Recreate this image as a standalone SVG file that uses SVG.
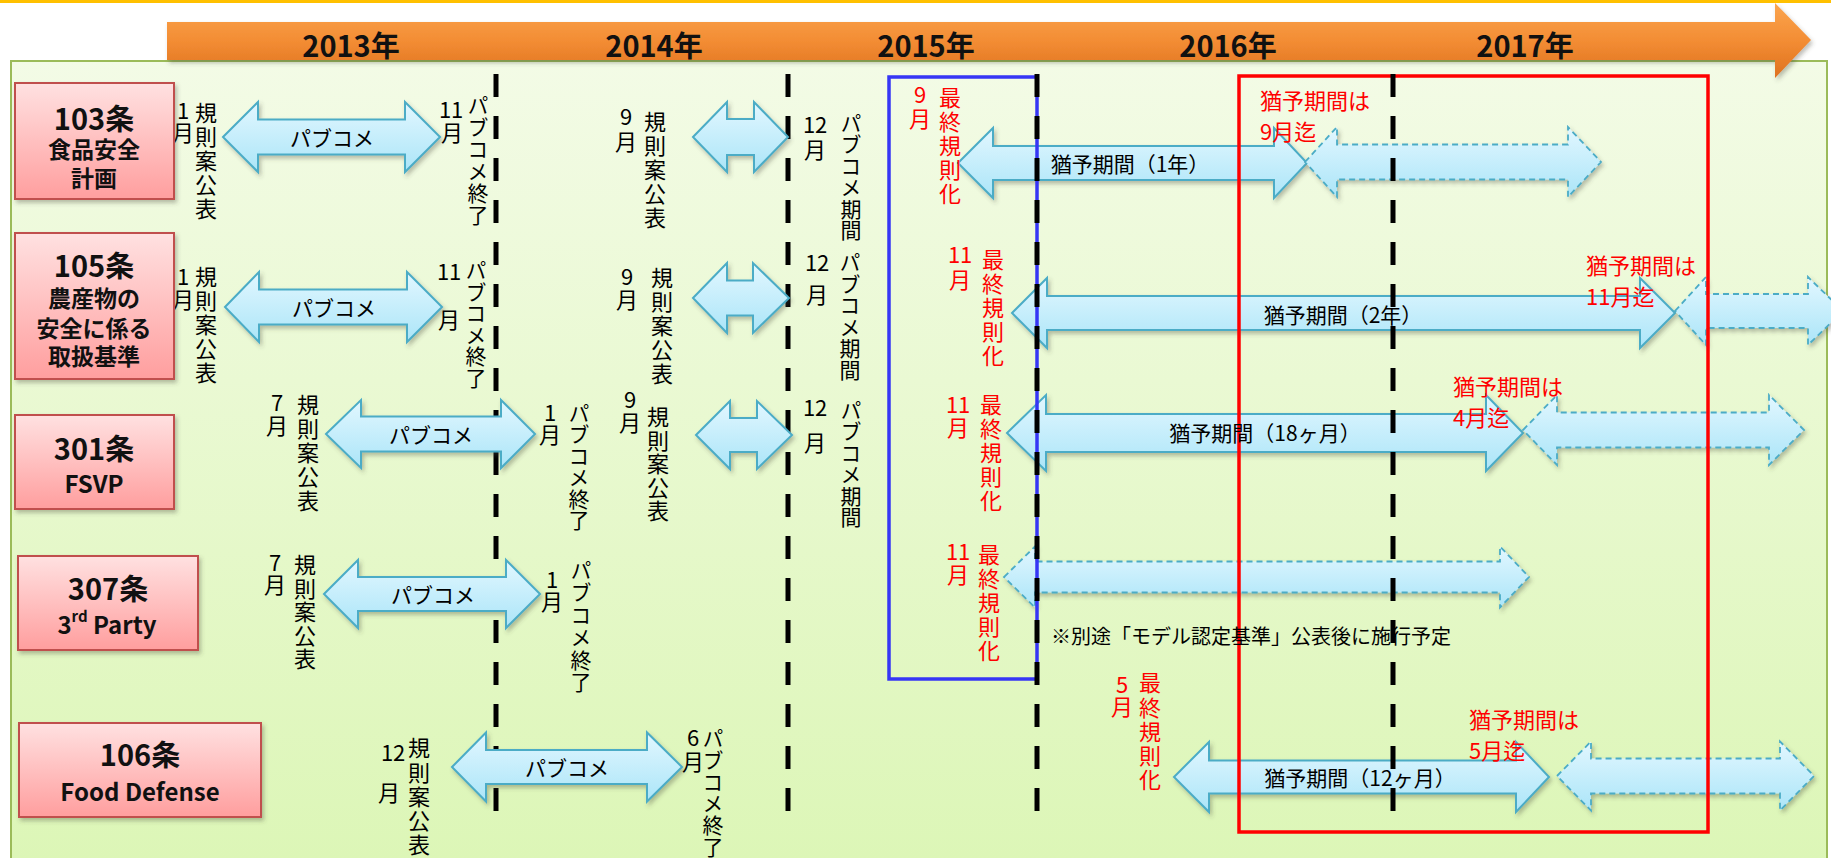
<svg xmlns="http://www.w3.org/2000/svg" width="1831" height="858" viewBox="0 0 1831 858">
<defs>
<linearGradient id="gPanel" x1="0" y1="0" x2="0" y2="1"><stop offset="0" stop-color="#F3FBE6"/><stop offset="1" stop-color="#DCF6B6"/></linearGradient>
<linearGradient id="gOrange" x1="0" y1="0" x2="0" y2="1"><stop offset="0" stop-color="#FBA54F"/><stop offset="0.5" stop-color="#F38D34"/><stop offset="1" stop-color="#DE711E"/></linearGradient>
<linearGradient id="gNode" x1="0" y1="0" x2="0" y2="1"><stop offset="0" stop-color="#FFE1E1"/><stop offset="1" stop-color="#FF9E9E"/></linearGradient>
<linearGradient id="gArrow" x1="0" y1="0" x2="0" y2="1"><stop offset="0" stop-color="#E2F7FF"/><stop offset="1" stop-color="#ABE5F8"/></linearGradient>
<filter id="sh" x="-10%" y="-20%" width="130%" height="160%"><feDropShadow dx="2" dy="3" stdDeviation="2" flood-color="#4a4a3a" flood-opacity="0.35"/></filter>
<style>
.t{font-family:"Noto Sans CJK JP","Noto Sans",sans-serif;}
.yr{font-size:29px;font-weight:700;fill:#111;text-anchor:middle;dominant-baseline:central;}
.nb{fill:url(#gNode);stroke:#C0504D;stroke-width:2;filter:url(#sh);}
.nt{font-weight:700;fill:#111;text-anchor:middle;dominant-baseline:central;}
.big{font-size:29px;}
.mid{font-size:23px;}
.lat{font-size:24px;}
.v{writing-mode:vertical-rl;text-orientation:upright;font-size:22px;fill:#000;}
.k{font-size:21px;}
.red{fill:#FF0000;}
.lbl{font-size:21px;fill:#000;text-anchor:middle;dominant-baseline:central;}
.rl{font-size:22px;fill:#FF0000;dominant-baseline:central;}
.note{font-size:20px;fill:#000;dominant-baseline:central;}
.arr{fill:url(#gArrow);stroke:#4BACC6;stroke-width:2;stroke-linejoin:miter;filter:url(#sh);}
.arrd{fill:url(#gArrow);stroke:#4BACC6;stroke-width:1.8;stroke-dasharray:6 4;filter:url(#sh);}
.dl{stroke:#000;stroke-width:5;stroke-dasharray:23 19;fill:none;}
</style>
</defs>
<rect x="0" y="0" width="1831" height="858" fill="#FFFFFF"/>
<rect x="0" y="0" width="1831" height="3" fill="#FFC000"/>
<rect id="panel" x="11" y="61" width="1816" height="810" fill="url(#gPanel)" stroke="#9BBB59" stroke-width="2"/>
<g id="timeline">
<path d="M167,22 L1775,22 L1775,3 L1811,40 L1775,78 L1775,60 L167,60 Z" fill="url(#gOrange)" filter="url(#sh)"/>
<text class="t yr" x="351" y="44">2013年</text>
<text class="t yr" x="654" y="44">2014年</text>
<text class="t yr" x="926" y="44">2015年</text>
<text class="t yr" x="1228" y="44">2016年</text>
<text class="t yr" x="1525" y="44">2017年</text>
</g>
<g id="gridlines-back">
<line class="dl" x1="496" y1="74" x2="496" y2="812"/>
<line class="dl" x1="788" y1="74" x2="788" y2="812"/>
</g>
<g id="connectors">
<path class="arr" d="M223,137 L258,102 L258,119.5 L405,119.5 L405,102 L440,137 L405,172 L405,154.5 L258,154.5 L258,172 Z"/>
<path class="arr" d="M693,137 L727,102 L727,119 L754,119 L754,102 L788,137 L754,172 L754,155 L727,155 L727,172 Z"/>
<path class="arr" d="M958,163 L993,128 L993,146 L1274,146 L1274,128 L1307,163 L1274,198 L1274,180 L993,180 L993,198 Z"/>
<path class="arrd" d="M1305,162 L1337,127 L1337,144.5 L1568,144.5 L1568,127 L1601,162 L1568,197 L1568,179.5 L1337,179.5 L1337,197 Z"/>
<path class="arr" d="M225,307 L259,272 L259,289.5 L407,289.5 L407,272 L442,307 L407,342 L407,324.5 L259,324.5 L259,342 Z"/>
<path class="arr" d="M693,298 L727,263 L727,280.5 L753,280.5 L753,263 L789,298 L753,333 L753,315.5 L727,315.5 L727,333 Z"/>
<path class="arr" d="M1012,313 L1047,278 L1047,296 L1640,296 L1640,278 L1675,313 L1640,348 L1640,330 L1047,330 L1047,348 Z"/>
<path class="arrd" d="M1675,311 L1706,277 L1706,294 L1808,294 L1808,277 L1843,311 L1808,345 L1808,328 L1706,328 L1706,345 Z"/>
<path class="arr" d="M326,434 L361,400 L361,416.5 L501,416.5 L501,400 L535,434 L501,468 L501,451.5 L361,451.5 L361,468 Z"/>
<path class="arr" d="M696,435 L730,401 L730,418 L757,418 L757,401 L792,435 L757,469 L757,452 L730,452 L730,469 Z"/>
<path class="arr" d="M1007,433 L1046,395 L1046,414 L1486,414 L1486,395 L1523,433 L1486,471 L1486,452 L1046,452 L1046,471 Z"/>
<path class="arrd" d="M1523,430 L1557,395 L1557,412.5 L1769,412.5 L1769,395 L1804,430 L1769,465 L1769,447.5 L1557,447.5 L1557,465 Z"/>
<path class="arr" d="M324,594 L358,560 L358,577 L506,577 L506,560 L540,594 L506,628 L506,611 L358,611 L358,628 Z"/>
<path class="arrd" d="M1004,577 L1035,546.5 L1035,561.5 L1500,561.5 L1500,546.5 L1529,577 L1500,607.5 L1500,592.5 L1035,592.5 L1035,607.5 Z"/>
<path class="arr" d="M452,767 L486,732.5 L486,750 L647,750 L647,732.5 L682,767 L647,801.5 L647,784 L486,784 L486,801.5 Z"/>
<path class="arr" d="M1174,777 L1209,742 L1209,760.5 L1516,760.5 L1516,742 L1549,777 L1516,812 L1516,793.5 L1209,793.5 L1209,812 Z"/>
<path class="arrd" d="M1557,776 L1591,741.5 L1591,758.5 L1780,758.5 L1780,741.5 L1814,776 L1780,810.5 L1780,793.5 L1591,793.5 L1591,810.5 Z"/>
</g>
<g id="highlights">
<rect x="889" y="77" width="148" height="602" fill="none" stroke="#3636F5" stroke-width="3.5"/>
<rect x="1239" y="76" width="469" height="756" fill="none" stroke="#FF0000" stroke-width="3.5"/>
</g>
<g id="gridlines-front">
<line class="dl" x1="1037" y1="74" x2="1037" y2="812"/>
<line class="dl" x1="1393" y1="74" x2="1393" y2="812"/>
</g>
<g id="arrow-labels">
<text class="t lbl" x="332" y="137">パブコメ</text>
<text class="t lbl" x="334" y="307">パブコメ</text>
<text class="t lbl" x="431" y="434">パブコメ</text>
<text class="t lbl" x="433" y="594">パブコメ</text>
<text class="t lbl" x="567" y="767">パブコメ</text>
<text class="t lbl" x="1130" y="163">猶予期間（1年）</text>
<text class="t lbl" x="1343" y="314">猶予期間（2年）</text>
<text class="t lbl" x="1265" y="432">猶予期間（18ヶ月）</text>
<text class="t lbl" x="1360" y="777">猶予期間（12ヶ月）</text>
<text class="t rl" x="1260"><tspan x="1260" y="99">猶予期間は</tspan><tspan x="1260" y="130">9月迄</tspan></text>
<text class="t rl" x="1586"><tspan x="1586" y="264">猶予期間は</tspan><tspan x="1586" y="295">11月迄</tspan></text>
<text class="t rl" x="1453"><tspan x="1453" y="385">猶予期間は</tspan><tspan x="1453" y="416">4月迄</tspan></text>
<text class="t rl" x="1469"><tspan x="1469" y="718">猶予期間は</tspan><tspan x="1469" y="749">5月迄</tspan></text>
<text class="t note" x="1051" y="635">※別途「モデル認定基準」公表後に施行予定</text>
</g>
<g id="row-103-labels">
<text class="t v" x="183" y="100">1月</text>
<text class="t v" x="206" y="102" letter-spacing="2">規則案公表</text>
<text class="t v" x="445 457 452" y="99 99 122">11月</text>
<text class="t v k" x="478" y="94.5" letter-spacing="1">パブコメ終了</text>
<text class="t v" x="626" y="106" letter-spacing="3">9月</text>
<text class="t v" x="655" y="111" letter-spacing="2">規則案公表</text>
<text class="t v" x="809 821 815" y="114 114 139">12月</text>
<text class="t v k" x="851" y="112.5" letter-spacing="0.4">パブコメ期間</text>
<text class="t v red" x="920" y="84" letter-spacing="2">9月</text>
<text class="t v red" x="950" y="87" letter-spacing="2">最終規則化</text>
</g>
<g id="row-105-labels">
<text class="t v" x="183" y="266" letter-spacing="1">1月</text>
<text class="t v" x="206" y="266" letter-spacing="2">規則案公表</text>
<text class="t v" x="443 455 449" y="261 261 309">11月</text>
<text class="t v k" x="476" y="259.5" letter-spacing="0.6">パブコメ終了</text>
<text class="t v" x="627" y="266" letter-spacing="1">9月</text>
<text class="t v" x="662" y="267" letter-spacing="2">規則案公表</text>
<text class="t v" x="811 823 817" y="252 252 284">12月</text>
<text class="t v k" x="850" y="251.5" letter-spacing="0.6">パブコメ期間</text>
<text class="t v red" x="954 966 960" y="244 244 269">11月</text>
<text class="t v red" x="993" y="249" letter-spacing="2">最終規則化</text>
</g>
<g id="row-301-labels">
<text class="t v" x="277" y="392" letter-spacing="1">7月</text>
<text class="t v" x="308" y="394" letter-spacing="2">規則案公表</text>
<text class="t v" x="550" y="402">1月</text>
<text class="t v k" x="579" y="402.5" letter-spacing="0.4">パブコメ終了</text>
<text class="t v" x="630" y="389" letter-spacing="1">9月</text>
<text class="t v" x="658" y="406" letter-spacing="1.5">規則案公表</text>
<text class="t v" x="809 821 815" y="397 397 432">12月</text>
<text class="t v k" x="851" y="399.5" letter-spacing="0.4">パブコメ期間</text>
<text class="t v red" x="952 964 958" y="394 394 417">11月</text>
<text class="t v red" x="991" y="394" letter-spacing="2">最終規則化</text>
</g>
<g id="row-307-labels">
<text class="t v" x="275" y="552">7月</text>
<text class="t v" x="305" y="554" letter-spacing="1.5">規則案公表</text>
<text class="t v" x="552" y="569">1月</text>
<text class="t v k" x="581" y="559.5" letter-spacing="1.4">パブコメ終了</text>
<text class="t v red" x="952 964 958" y="541 541 564">11月</text>
<text class="t v red" x="989" y="544" letter-spacing="2">最終規則化</text>
</g>
<g id="row-106-labels">
<text class="t v" x="387 399 389" y="742 742 782">12月</text>
<text class="t v" x="419" y="737" letter-spacing="2.25">規則案公表</text>
<text class="t v" x="693" y="727" letter-spacing="2">6月</text>
<text class="t v k" x="713" y="727.5" letter-spacing="0.8">パブコメ終了</text>
<text class="t v red" x="1122" y="674">5月</text>
<text class="t v red" x="1150" y="672" letter-spacing="2.25">最終規則化</text>
</g>
<g id="node-103">
<rect class="nb" x="15" y="83" width="159" height="116"/>
<text class="t nt big" x="94" y="117">103条</text>
<text class="t nt mid" x="94" y="148">食品安全</text>
<text class="t nt mid" x="94" y="177">計画</text>
</g>
<g id="node-105">
<rect class="nb" x="15" y="233" width="159" height="146"/>
<text class="t nt big" x="94" y="264">105条</text>
<text class="t nt mid" x="94" y="297">農産物の</text>
<text class="t nt mid" x="94" y="327">安全に係る</text>
<text class="t nt mid" x="94" y="355">取扱基準</text>
</g>
<g id="node-301">
<rect class="nb" x="15" y="415" width="159" height="94"/>
<text class="t nt big" x="94" y="447">301条</text>
<text class="t nt lat" x="94" y="482">FSVP</text>
</g>
<g id="node-307">
<rect class="nb" x="18" y="556" width="180" height="94"/>
<text class="t nt big" x="108" y="587">307条</text>
<text class="t nt lat" x="107" y="623">3<tspan font-size="15" dy="-8">rd</tspan><tspan dy="8"> Party</tspan></text>
</g>
<g id="node-106">
<rect class="nb" x="19" y="723" width="242" height="94"/>
<text class="t nt big" x="140" y="753">106条</text>
<text class="t nt lat" x="140" y="790">Food Defense</text>
</g>
</svg>
